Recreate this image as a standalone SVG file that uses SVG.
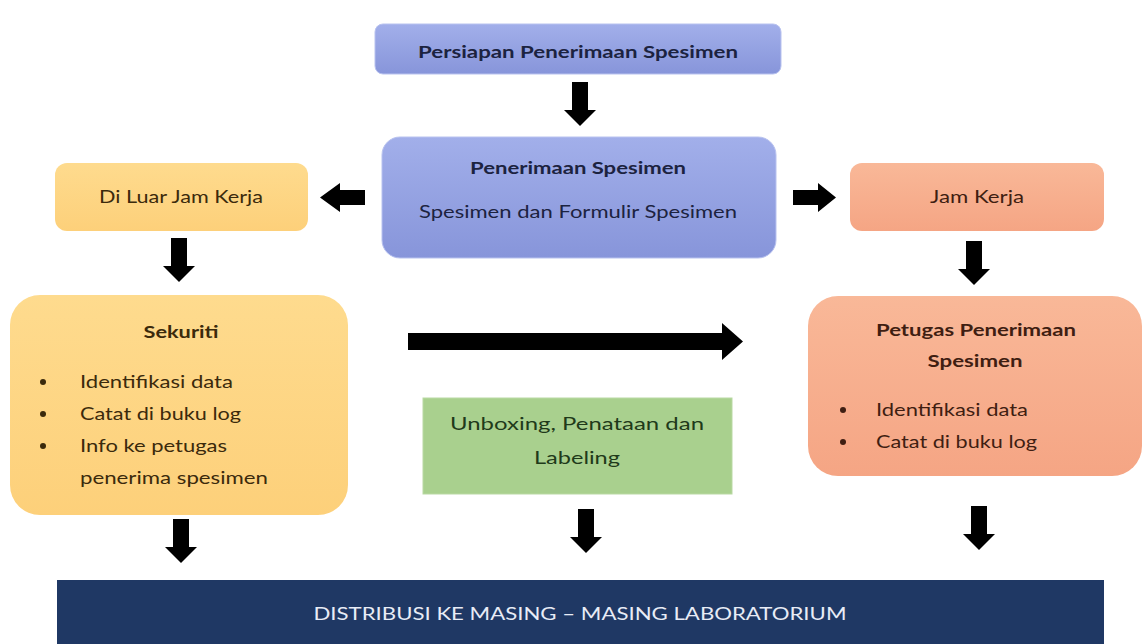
<svg xmlns="http://www.w3.org/2000/svg" width="1144" height="644" viewBox="0 0 1144 644">
  <defs>
    <linearGradient id="gBlue" x1="0" y1="0" x2="0" y2="1">
      <stop offset="0" stop-color="#a2afea"/>
      <stop offset="1" stop-color="#8795da"/>
    </linearGradient>
    <linearGradient id="gYellow" x1="0" y1="0" x2="0" y2="1">
      <stop offset="0" stop-color="#fedb8e"/>
      <stop offset="1" stop-color="#fdd07a"/>
    </linearGradient>
    <linearGradient id="gSalmon" x1="0" y1="0" x2="0" y2="1">
      <stop offset="0" stop-color="#f9b898"/>
      <stop offset="1" stop-color="#f5a584"/>
    </linearGradient>
    <!-- block arrow pointing down, drawn at origin (tip at 0,0) -->
    <path id="arrowDown" d="M -8 -44 H 8 V -16 H 16 L 0 0 L -16 -16 H -8 Z"/>
  </defs>
  <style>
    text { font-family: Lato, "Open Sans", "Liberation Sans", sans-serif; }
    .t { font-size: 17px; text-anchor: middle; }
    .b { font-weight: bold; }
    .navy { fill: #1c2340; }
    .brown { fill: #3b2a0c; }
    .rust { fill: #3f1e12; }
    .arrow { fill: #000; }
  </style>

  <rect width="1144" height="644" fill="#ffffff"/>

  <g id="node-persiapan">
    <rect x="375" y="24" width="406" height="50" rx="8" fill="url(#gBlue)" stroke="#b8c2ef" stroke-width="1"/>
    <text x="578" y="58" class="t b navy" textLength="320" lengthAdjust="spacingAndGlyphs">Persiapan Penerimaan Spesimen</text>
  </g>

  <g id="node-penerimaan">
    <rect x="382" y="137" width="394" height="121" rx="18" fill="url(#gBlue)" stroke="#b8c2ef" stroke-width="1"/>
    <text x="578" y="174" class="t b navy" textLength="216" lengthAdjust="spacingAndGlyphs">Penerimaan Spesimen</text>
    <text x="578" y="218" class="t navy" textLength="318" lengthAdjust="spacingAndGlyphs">Spesimen dan Formulir Spesimen</text>
  </g>

  <g id="node-luar-jam">
    <rect x="55" y="163" width="253" height="68" rx="12" fill="url(#gYellow)"/>
    <text x="181" y="203" class="t brown" textLength="164" lengthAdjust="spacingAndGlyphs">Di Luar Jam Kerja</text>
  </g>

  <g id="node-jam-kerja">
    <rect x="850" y="163" width="254" height="68" rx="12" fill="url(#gSalmon)"/>
    <text x="977" y="203" class="t rust" textLength="94" lengthAdjust="spacingAndGlyphs">Jam Kerja</text>
  </g>

  <g id="node-sekuriti">
    <rect x="10" y="295" width="338" height="220" rx="30" fill="url(#gYellow)"/>
    <text x="181" y="338" class="t b brown" textLength="75" lengthAdjust="spacingAndGlyphs">Sekuriti</text>
    <g class="brown" font-size="17">
      <circle cx="43" cy="382" r="3"/>
      <circle cx="43" cy="414" r="3"/>
      <circle cx="43" cy="446" r="3"/>
      <text x="80" y="388" textLength="153" lengthAdjust="spacingAndGlyphs">Identifikasi data</text>
      <text x="80" y="420" textLength="161" lengthAdjust="spacingAndGlyphs">Catat di buku log</text>
      <text x="80" y="452" textLength="147" lengthAdjust="spacingAndGlyphs">Info ke petugas</text>
      <text x="80" y="484" textLength="188" lengthAdjust="spacingAndGlyphs">penerima spesimen</text>
    </g>
  </g>

  <g id="node-petugas">
    <rect x="808" y="296" width="334" height="180" rx="30" fill="url(#gSalmon)"/>
    <text x="976" y="336" class="t b rust" textLength="200" lengthAdjust="spacingAndGlyphs">Petugas Penerimaan</text>
    <text x="975" y="367" class="t b rust" textLength="95" lengthAdjust="spacingAndGlyphs">Spesimen</text>
    <g class="rust" font-size="17">
      <circle cx="843" cy="410" r="3"/>
      <circle cx="843" cy="442" r="3"/>
      <text x="876" y="416" textLength="152" lengthAdjust="spacingAndGlyphs">Identifikasi data</text>
      <text x="876" y="448" textLength="161" lengthAdjust="spacingAndGlyphs">Catat di buku log</text>
    </g>
  </g>

  <g id="node-unboxing">
    <rect x="423" y="398" width="309" height="96" fill="#a9d08e" stroke="#b9d9a3" stroke-width="1"/>
    <text x="577" y="430" class="t" fill="#1f3a1a" textLength="254" lengthAdjust="spacingAndGlyphs">Unboxing, Penataan dan</text>
    <text x="577" y="464" class="t" fill="#1f3a1a" textLength="86" lengthAdjust="spacingAndGlyphs">Labeling</text>
  </g>

  <g id="node-distribusi">
    <rect x="57" y="580" width="1047" height="70" fill="#1f3864"/>
    <text x="580" y="620" font-size="17" text-anchor="middle" fill="#e8ecf6" font-family="'Liberation Sans Narrow', 'DejaVu Sans Condensed', 'Liberation Sans', sans-serif" textLength="533" lengthAdjust="spacingAndGlyphs">DISTRIBUSI KE MASING – MASING LABORATORIUM</text>
  </g>

  <g id="connectors" class="arrow">
    <!-- Persiapan to Penerimaan -->
    <use href="#arrowDown" transform="translate(580,126)"/>
    <!-- Penerimaan to Di Luar Jam Kerja -->
    <path d="M 365 190 V 205 H 340 V 212 L 320 197.5 L 340 183 V 190 Z"/>
    <!-- Penerimaan to Jam Kerja -->
    <path d="M 793 190 V 205 H 818 V 212 L 836 197.5 L 818 183 V 190 Z"/>
    <!-- Di Luar Jam Kerja to Sekuriti -->
    <use href="#arrowDown" transform="translate(179,282)"/>
    <!-- Jam Kerja to Petugas -->
    <use href="#arrowDown" transform="translate(974,285)"/>
    <!-- Sekuriti to Petugas -->
    <path d="M 408 333 H 722 V 323 L 743 341.5 L 722 360 V 350 H 408 Z"/>
    <!-- boxes to Distribusi -->
    <use href="#arrowDown" transform="translate(181,563)"/>
    <use href="#arrowDown" transform="translate(586,553)"/>
    <use href="#arrowDown" transform="translate(979,550)"/>
  </g>
</svg>
